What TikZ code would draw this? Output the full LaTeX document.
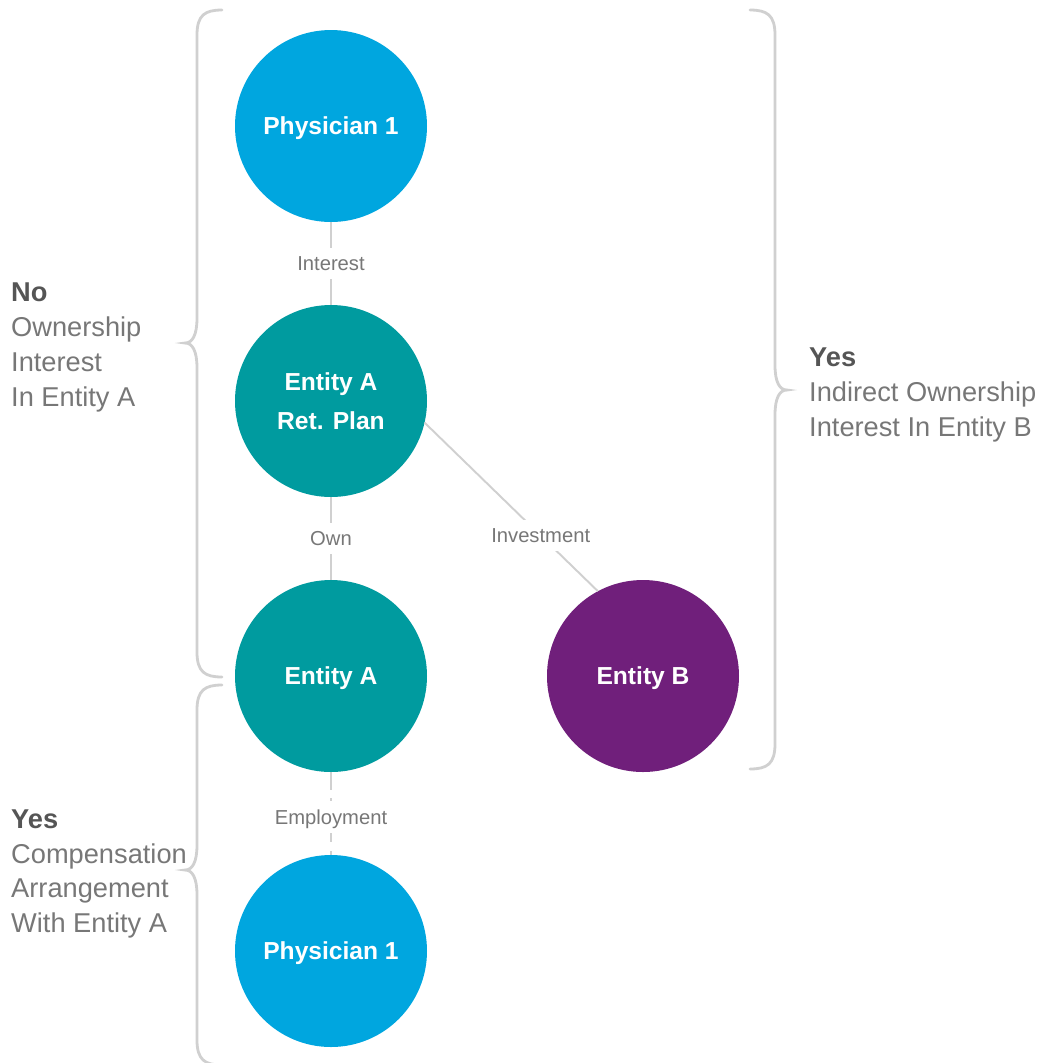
\documentclass[tikz,border=0pt]{standalone}
\usepackage{fontspec}
\setmainfont{Liberation Sans}
\usetikzlibrary{positioning}
\definecolor{physBlue}{HTML}{00A6DF}
\definecolor{entityTeal}{HTML}{009B9F}
\definecolor{entityPurple}{HTML}{701F7B}
\definecolor{lineGray}{HTML}{D0D0D0}
\definecolor{textDark}{HTML}{555555}
\definecolor{textGray}{HTML}{777777}

\begin{document}
\begin{tikzpicture}[font=\fontsize{14}{22}\selectfont, node distance=1.66cm,
    party/.style={circle, minimum size=3.84cm, inner sep=0pt, outer sep=0pt,
      text=white, font=\fontsize{14}{22}\selectfont\bfseries, align=center},
    person/.style={party, fill=physBlue, text depth=0pt},
    firm/.style={party, fill=entityTeal},
    other/.style={party, fill=entityPurple, text depth=0pt},
    link/.style={draw=lineGray, line width=1.1pt},
    tag/.style={fill=white, inner xsep=2pt, inner ysep=5pt, text=textGray,
      text depth=0pt, font=\fontsize{11.5}{14}\selectfont},
    curly/.style={draw=lineGray, line width=1.6pt, line cap=round},
    note/.style={align=left, anchor=west, text=textGray,
      font=\fontsize{15.5}{19.8}\selectfont}]
    \useasboundingbox (0,0) rectangle (20.88,-21.26);
    \node[person] (phys) at (6.62,-2.52) {Physician 1};
    \node[firm, below=of phys] (plan) {Entity A\\Ret. Plan};
    \node[firm, below=of plan, text depth=0pt] (enta) {Entity A};
    \node[other, right=2.4cm of enta] (entb) {Entity B};
    \node[person, below=of enta] (physb) {Physician 1};
    \draw[link] (phys) -- node[tag]{Interest} (plan);
    \draw[link] (plan) -- node[tag]{Own} (enta);
    \draw[link] (plan.-13) -- node[tag, pos=0.67]{Investment} (entb.118);
    \draw[link, dash pattern=on 10pt off 5pt] (enta) -- node[tag, yshift=-2pt]{Employment} (physb);
    % braces
    \draw[curly] (4.44,-0.2) .. controls (4.1,-0.2) and (3.94,-0.3) .. (3.94,-0.7)
      -- (3.94,-6.36) .. controls (3.94,-6.7) and (3.85,-6.86) .. (3.70,-6.86)
      .. controls (3.85,-6.86) and (3.94,-7.02) .. (3.94,-7.36)
      -- (3.94,-13.04) .. controls (3.94,-13.44) and (4.1,-13.54) .. (4.44,-13.54);
    \draw[curly] (4.44,-13.7) .. controls (4.1,-13.7) and (3.94,-13.8) .. (3.94,-14.2)
      -- (3.94,-16.9) .. controls (3.94,-17.24) and (3.85,-17.4) .. (3.70,-17.4)
      .. controls (3.85,-17.4) and (3.94,-17.56) .. (3.94,-17.9)
      -- (3.94,-20.8) .. controls (3.94,-21.2) and (4.1,-21.3) .. (4.44,-21.3);
    \draw[curly] (15.0,-0.2) .. controls (15.34,-0.2) and (15.5,-0.3) .. (15.5,-0.7)
      -- (15.5,-7.3) .. controls (15.5,-7.64) and (15.59,-7.8) .. (15.74,-7.8)
      .. controls (15.59,-7.8) and (15.5,-7.96) .. (15.5,-8.3)
      -- (15.5,-14.88) .. controls (15.5,-15.28) and (15.34,-15.38) .. (15.0,-15.38);
    % side notes
    \node[note] (no) at (0.1,-6.95) {\textcolor{textDark}{\bfseries No}\\Ownership\\Interest\\In Entity A};
    \node[note] (yesa) at (0.1,-17.48) {\textcolor{textDark}{\bfseries Yes}\\Compensation\\Arrangement\\With Entity A};
    \node[note] (yesb) at (16.06,-7.9) {\textcolor{textDark}{\bfseries Yes}\\Indirect Ownership\\Interest In Entity B};
\end{tikzpicture}
\end{document}
